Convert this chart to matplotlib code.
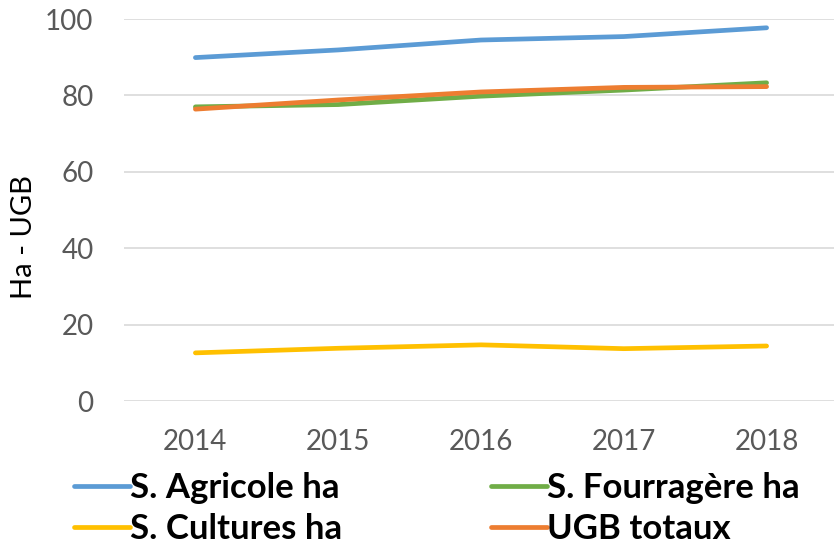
import matplotlib
matplotlib.use("Agg")
import matplotlib.pyplot as plt

plt.rcParams['font.family'] = ['Lato', 'DejaVu Sans']

years = ['2014', '2015', '2016', '2017', '2018']
agricole = [89.9, 91.9, 94.5, 95.4, 97.7]
fourragere = [77.0, 77.6, 79.8, 81.4, 83.3]
cultures = [12.6, 13.8, 14.7, 13.7, 14.4]
ugb = [76.4, 78.8, 80.9, 82.1, 82.3]

series_names = ['S. Agricole ha', 'S. Fourragère ha', 'S. Cultures ha', 'UGB totaux']
series_vals = [agricole, fourragere, cultures, ugb]
colors = ['#5B9BD5', '#70AD47', '#FFC000', '#ED7D31']

fig = plt.figure(figsize=(8.34, 5.5), dpi=100)
ax = fig.add_axes([124/834, 1 - 401/550, 714/834, 382/550])

x = range(len(years))
handles = []
for name, vals, c in zip(series_names, series_vals, colors):
    h, = ax.plot(x, vals, color=c, lw=3.4, solid_capstyle='round', label=name)
    handles.append(h)

ax.set_xlim(-0.5, len(years) - 0.5)
ax.set_ylim(0, 100)
ax.set_yticks([0, 20, 40, 60, 80, 100])
ax.set_xticks(list(x))
ax.set_xticklabels(years)
ax.tick_params(length=0, labelsize=20, colors='#595959')
ax.tick_params(axis='x', pad=20)
ax.tick_params(axis='y', pad=22)
ax.grid(axis='y', color='#D9D9D9', lw=1.2)
ax.set_axisbelow(True)
for s in ax.spines.values():
    s.set_visible(False)

# y label placed like the reference (a bit below the axis centre)
fig.text(24/834, 1 - 237/550, 'Ha - UGB', rotation=90, ha='center', va='center',
         fontsize=21, color='black')

# legend order: row-wise like Excel -> column order for matplotlib
order = [0, 2, 1, 3]
fig.legend([handles[i] for i in order], [series_names[i] for i in order],
           ncol=2, loc='upper left', bbox_to_anchor=(74/834, 1 - 472/550),
           frameon=False, handlelength=1.6, handletextpad=0.0,
           columnspacing=4.3, labelspacing=0.25, borderaxespad=0, borderpad=0,
           prop={'size': 25, 'weight': 'bold'})

fig.savefig('out.png', dpi=100)
